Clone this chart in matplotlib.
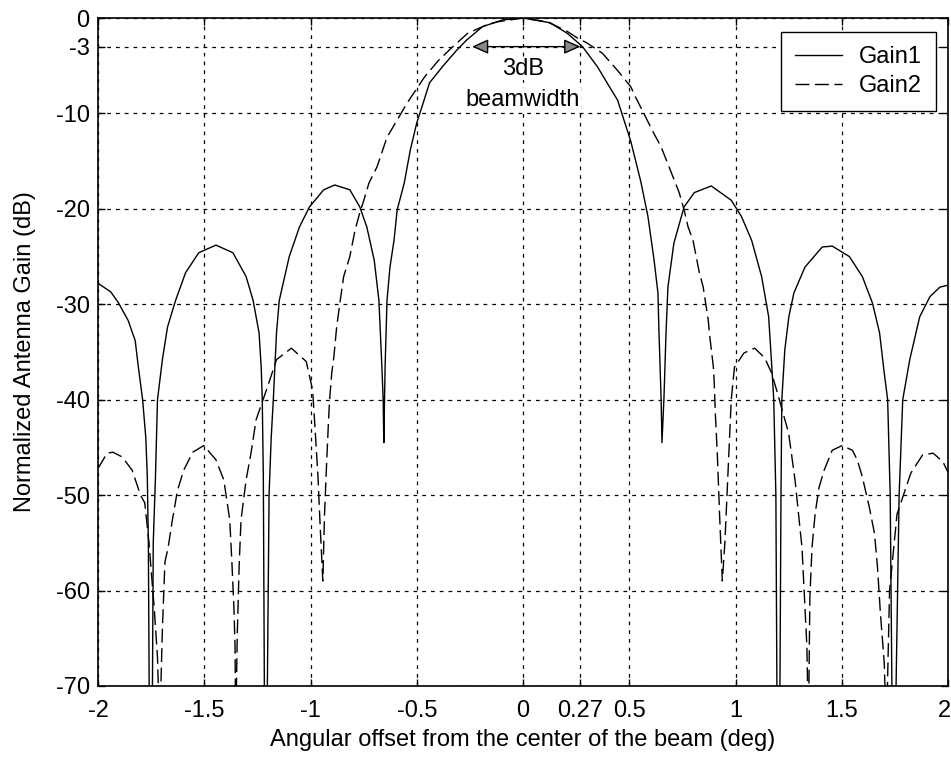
import matplotlib
matplotlib.use("Agg")
import matplotlib.pyplot as plt
import matplotlib.transforms as mtransforms

plt.rcParams['font.family'] = ['Liberation Sans', 'DejaVu Sans']

# Gain1: uniform-aperture pattern (solid line), angle in deg, gain in dB
gain1_x = [-2.00, -1.94, -1.905, -1.858, -1.825, -1.81, -1.79, -1.775, -1.768, -1.763, -1.758,
           -1.745, -1.74, -1.73, -1.72, -1.697, -1.673, -1.635, -1.588, -1.526, -1.445,
           -1.365, -1.303, -1.27, -1.242, -1.232, -1.227, -1.222, -1.216,
           -1.205, -1.195, -1.185, -1.175, -1.16, -1.147, -1.10, -1.052, -1.005, -0.938,
           -0.886, -0.815, -0.768, -0.735, -0.70, -0.678, -0.664, -0.658, -0.655, -0.649,
           -0.64, -0.626, -0.607, -0.592, -0.559, -0.53, -0.50, -0.474, -0.44, -0.379,
           -0.313, -0.265, -0.19, -0.095, 0.0, 0.128, 0.208, 0.28, 0.35, 0.412, 0.445,
           0.507, 0.555, 0.588, 0.617, 0.635, 0.64, 0.65, 0.654, 0.663, 0.673, 0.682,
           0.71, 0.758, 0.806, 0.886, 0.98, 1.028, 1.076, 1.123, 1.156, 1.171, 1.18,
           1.19, 1.196, 1.208, 1.214, 1.218, 1.232, 1.251, 1.275, 1.327, 1.408, 1.455,
           1.536, 1.597, 1.645, 1.678, 1.70, 1.716, 1.728, 1.738, 1.752, 1.77, 1.787,
           1.82, 1.867, 1.915, 1.962, 2.00]
gain1_db = [-27.8, -28.7, -29.8, -31.7, -33.8, -36.6, -40.0, -44.0, -48.0, -55.0, -75.0,
            -75.0, -55.0, -48.4, -40.0, -35.8, -32.4, -29.6, -26.7, -24.6, -23.8,
            -24.6, -27.1, -29.6, -33.0, -36.6, -40.0, -48.0, -75.0,
            -75.0, -50.0, -44.0, -40.0, -33.0, -29.6, -25.0, -21.9, -19.8, -18.0,
            -17.5, -18.0, -19.8, -21.9, -25.4, -29.6, -36.6, -40.0, -44.5, -36.6,
            -29.6, -26.1, -23.3, -20.1, -17.3, -13.8, -11.0, -9.2, -6.8, -5.1,
            -3.4, -2.3, -0.9, -0.2, 0.0, -0.5, -1.6, -3.0, -5.1, -7.4, -8.6,
            -12.9, -17.2, -20.8, -25.4, -28.8, -33.0, -40.0, -44.5, -40.0, -33.0, -28.2,
            -23.6, -19.8, -18.3, -17.6, -19.1, -20.8, -23.3, -27.1, -31.3, -36.6, -40.0,
            -50.0, -75.0, -75.0, -50.0, -40.0, -34.8, -31.3, -28.8, -26.1, -24.0, -23.9,
            -25.0, -27.1, -29.9, -33.0, -37.2, -40.0, -50.0, -75.0, -75.0, -50.0, -40.0,
            -35.8, -31.3, -29.2, -28.2, -28.0]

# Gain2: tapered-aperture pattern (dashed line)
gain2_x = [-2.00, -1.957, -1.93, -1.886, -1.839, -1.80, -1.78, -1.76, -1.735, -1.72, -1.71,
           -1.697, -1.685, -1.67, -1.65, -1.626, -1.597, -1.554, -1.502, -1.445, -1.408,
           -1.38, -1.37, -1.36, -1.355, -1.352, -1.345, -1.336, -1.327, -1.303, -1.28,
           -1.256, -1.20, -1.16, -1.09, -1.02, -0.99, -0.98, -0.965, -0.955, -0.942,
           -0.934, -0.924, -0.915, -0.91, -0.90, -0.89, -0.877, -0.862, -0.844, -0.815,
           -0.79, -0.768, -0.749, -0.725, -0.687, -0.64, -0.59, -0.545, -0.50, -0.464,
           -0.40, -0.33, -0.26, -0.17, -0.12, 0.0, 0.114, 0.208, 0.256, 0.30, 0.374,
           0.445, 0.507, 0.53, 0.616, 0.65, 0.71, 0.735, 0.758, 0.777, 0.80, 0.83,
           0.848, 0.872, 0.877, 0.896, 0.90, 0.905, 0.915, 0.925, 0.938, 0.95, 0.96,
           0.97, 0.98, 0.995, 1.04, 1.09, 1.137, 1.17, 1.20, 1.25, 1.28, 1.313,
           1.336, 1.343, 1.35, 1.36, 1.375, 1.393, 1.417, 1.455, 1.502, 1.55, 1.573,
           1.597, 1.63, 1.654, 1.668, 1.682, 1.70, 1.71, 1.725, 1.76, 1.79, 1.825,
           1.88, 1.93, 1.976, 2.00]
gain2_db = [-47.2, -45.6, -45.5, -46.0, -47.4, -50.0, -50.8, -55.0, -62.0, -67.0, -75.0,
            -64.0, -57.0, -55.5, -52.6, -49.5, -47.4, -45.5, -44.8, -46.3, -48.4,
            -52.6, -57.0, -62.0, -66.0, -75.0, -65.0, -57.5, -52.6, -48.4, -45.6,
            -42.1, -38.5, -35.8, -34.6, -36.0, -39.0, -42.5, -48.0, -53.0, -59.0,
            -52.0, -46.6, -42.1, -40.0, -37.2, -35.5, -32.4, -29.9, -27.1, -25.0,
            -22.2, -20.4, -19.1, -17.3, -15.6, -12.5, -10.6, -8.9, -7.4, -6.2,
            -4.5, -3.0, -1.6, -0.7, -0.4, 0.0, -0.4, -1.4, -2.1, -2.6, -3.7,
            -5.5, -7.2, -8.3, -12.1, -13.5, -16.9, -18.3, -20.1, -21.9, -23.3, -26.7,
            -28.2, -31.7, -33.0, -36.6, -38.3, -41.4, -46.0, -52.0, -59.0, -55.0, -50.0,
            -45.0, -40.0, -36.6, -35.1, -34.6, -35.6, -37.2, -39.5, -43.5, -48.4, -55.5,
            -65.9, -75.0, -60.7, -55.5, -51.9, -49.2, -47.4, -45.3, -44.8, -45.3, -46.3,
            -48.1, -51.3, -54.0, -57.5, -62.4, -67.6, -75.0, -60.0, -52.0, -50.0, -47.7,
            -45.8, -45.6, -46.5, -47.6]

x_ticks = [-2, -1.5, -1, -0.5, 0, 0.27, 0.5, 1, 1.5, 2]
x_tick_labels = ['-2', '-1.5', '-1', '-0.5', '0', '0.27', '0.5', '1', '1.5', '2']
y_ticks = [0, -3, -10, -20, -30, -40, -50, -60, -70]
y_tick_labels = ['0', '-3', '-10', '-20', '-30', '-40', '-50', '-60', '-70']
beam_edges = [-0.24, 0.27]   # ends of the 3 dB beamwidth arrow
half_power_db = -3

fig = plt.figure(figsize=(9.51, 7.59), dpi=100)
ax = fig.add_axes([98 / 951, 1 - 686 / 759, 850 / 951, 668 / 759])

ax.plot(gain1_x, gain1_db, color='black', lw=1.0, label='Gain1')
ax.plot(gain2_x, gain2_db, color='black', lw=1.0, dashes=(10, 4), label='Gain2')

ax.set_xlim(-2, 2)
ax.set_ylim(-70, 0)
ax.set_xticks(x_ticks)
ax.set_xticklabels(x_tick_labels)
ax.set_yticks(y_ticks)
ax.set_yticklabels(y_tick_labels)
ax.grid(True, color='black', linestyle=(0, (3, 4)), linewidth=0.9)
ax.tick_params(direction='in', top=True, right=True, length=5, labelsize=17,
               width=1.0)
ax.tick_params(axis='x', pad=10)
ax.tick_params(axis='y', pad=6)
for sp in ax.spines.values():
    sp.set_linewidth(1.2)

# keep the last x tick label inside the canvas
last_label = ax.get_xticklabels()[-1]
last_label.set_transform(last_label.get_transform() +
                         mtransforms.ScaledTranslation(-4 / 100, 0, fig.dpi_scale_trans))

ax.set_xlabel('Angular offset from the center of the beam (deg)', fontsize=17)
ax.set_ylabel('Normalized Antenna Gain (dB)', fontsize=17)
ax.xaxis.set_label_coords(0.5, -0.064)
ax.yaxis.set_label_coords(-0.073, 0.5)

# 3 dB beamwidth annotation
ax.annotate('', xy=(beam_edges[0], half_power_db), xytext=(beam_edges[1], half_power_db),
            arrowprops=dict(arrowstyle='<|-|>,head_length=1.0,head_width=0.45',
                            fc='#888888', ec='black', lw=1.0, shrinkA=0, shrinkB=0))
ax.text(0, -5.3, '3dB', ha='center', va='center', fontsize=17,
        bbox=dict(fc='white', ec='none', pad=0.5))
ax.text(0, -8.6, 'beamwidth', ha='center', va='center', fontsize=17,
        bbox=dict(fc='white', ec='none', pad=0.5))

leg = ax.legend(loc='upper right', bbox_to_anchor=(0.986, 0.979), borderaxespad=0,
                fontsize=17, handlelength=2.0, labelspacing=0.3, fancybox=False,
                framealpha=1, edgecolor='black', borderpad=0.6, handletextpad=0.7)
leg.get_frame().set_linewidth(1.0)

fig.savefig('out.png', dpi=100)
